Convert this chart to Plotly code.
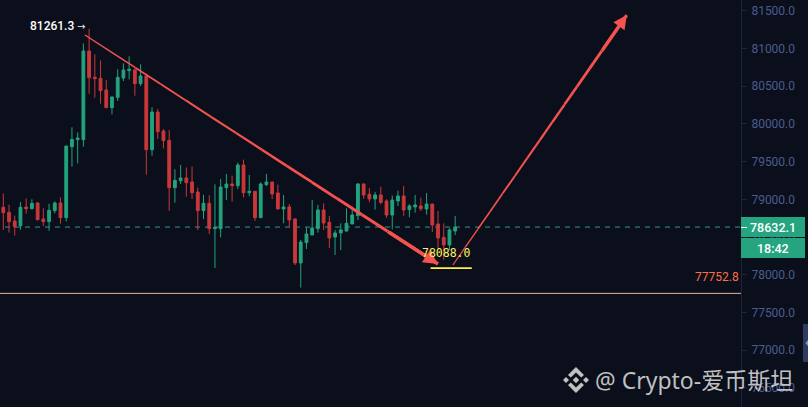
import numpy as np
import plotly.graph_objects as go

W, H = 808, 407
AXIS_PX = 741

# candles
open_ = [78894,78827,78713,78651,78898,78876,78951,78739,78704,78850,
         78951,78757,79698,79791,79791,80967,80618,80604,80450,80215,
         80352,80609,80706,80715,80534,80635,79658,80158,79906,79782,
         79155,79247,79283,79230,79097,78850,78947,78611,78611,79155,
         79203,79181,79455,79088,79106,78757,79194,79230,79084,78872,
         78899,78739,78156,78426,78527,78611,78859,78695,78501,78554,
         78580,78673,78784,79204,79067,79005,79058,78978,78792,78978,
         79044,78863,78899,78912,78872,78938,78673,78496,78395,78580]
high = [79079,78929,78783,78965,79013,79000,78965,78881,78942,78973,
        79026,79707,79955,79888,81068,81261.3,80923,80843,80582,80361,
        80724,80803,80896,80737,80790,80648,80220,80198,79932,79919,
        79398,79455,79420,79437,79155,79062,79053,79199,79269,79336,
        79314,79486,79526,79323,79106,79225,79336,79230,79195,79058,
        78938,78748,78461,78629,78991,78925,78947,78779,78594,78682,
        78881,78903,79212,79204,79151,79098,79168,79000,79049,79115,
        79177,78934,79058,79022,79084,78938,78846,78682,78616,78779]
low = [78593,78558,78518,78598,78810,78867,78721,78646,78584,78814,
       78677,78708,79433,79477,79698,80401,80348,80268,80215,80127,
       80304,80569,80591,80374,80503,79327,79579,79800,79676,78850,
       78956,79203,79035,79004,78593,78739,78540,78088,78496,78991,
       78969,79137,79026,79044,78713,78752,79177,79005,78868,78682,
       78629,78129,77829,78342,78527,78558,78594,78355,78262,78328,
       78571,78673,78726,79009,78960,78863,78934,78753,78602,78912,
       78779,78762,78823,78846,78797,78567,78350,78196,78328,78527]
close = [78823,78704,78637,78894,78876,78947,78730,78704,78854,78951,
         78757,79707,79795,79813,80967,80613,80600,80441,80215,80357,
         80618,80715,80724,80534,80635,79658,80158,79897,79778,79155,
         79252,79283,79221,79088,78850,78947,78611,78629,79163,79203,
         79181,79455,79088,79106,78757,79203,79230,79071,78872,78899,
         78726,78156,78434,78541,78620,78859,78686,78488,78554,78594,
         78682,78792,79204,79058,79005,79058,78960,78792,78991,79044,
         78859,78912,78925,78876,78938,78660,78488,78395,78594,78632.1]

tick_vals = [76500,77000,77500,78000,78500,79000,79500,80000,80500,81000,81500]

last_price = 78632.1
countdown = "18:42"
top_price = 81261.3
floor_price = 77752.8
target_price = 78088.0

# drawn arrows: bar index, price
down_arrow_x = [14.28, 76.0]
down_arrow_y = [81179, 78142]
up_arrow_x = [78.6, 109.0]
up_arrow_y = [78129, 81443]

BG = "#0b0f1b"
GREEN = "#22a37d"
RED = "#c9383a"
ARROW = "#f4524f"

def px(x):
    return x / W

def py(y):
    return 1 - y / H

def poly(points, cx, cy):
    # path in paper coords from pixel offsets
    return "M" + " L".join(f"{px(cx+a):.5f},{py(cy+b):.5f}" for a, b in points) + " Z"

fig = go.Figure(go.Candlestick(
    x=np.arange(len(open_)), open=open_, high=high, low=low, close=close,
    increasing=dict(line=dict(color=GREEN, width=1), fillcolor=GREEN),
    decreasing=dict(line=dict(color=RED, width=1), fillcolor=RED),
    whiskerwidth=0, hoverinfo="skip", showlegend=False,
))

# price lines
fig.add_shape(type="line", xref="x", yref="y", x0=0.3, x1=128.9, y0=last_price, y1=last_price,
              line=dict(color="#2b9a8a", width=1, dash="5px 5px"), layer="below")
fig.add_shape(type="line", xref="paper", yref="y", x0=0, x1=px(AXIS_PX), y0=floor_price, y1=floor_price,
              line=dict(color="#f0b295", width=1))
fig.add_shape(type="line", xref="x", yref="y", x0=74.7, x1=81.9, y0=target_price, y1=target_price,
              line=dict(color="#fff04a", width=1.6))

# arrows thicken toward the tip
def taper(xs, ys, w0, w1, n=14):
    tx = np.linspace(xs[0], xs[1], n + 1)
    ty = np.linspace(ys[0], ys[1], n + 1)
    tw = np.linspace(w0, w1, n)
    for i in range(n):
        fig.add_shape(type="line", xref="x", yref="y", x0=tx[i], x1=tx[i+1], y0=ty[i], y1=ty[i+1],
                      line=dict(color=ARROW, width=float(tw[i])))
    # head
    fig.add_annotation(x=xs[1], y=ys[1], ax=tx[n-2], ay=ty[n-2], xref="x", yref="y", axref="x", ayref="y",
                       text="", showarrow=True, arrowhead=2, arrowsize=0.85, arrowwidth=w1, arrowcolor=ARROW)

taper(down_arrow_x, down_arrow_y, 1.4, 3.4)
taper(up_arrow_x, up_arrow_y, 1.2, 3.2)

# price labels
fig.add_annotation(x=15, y=top_price, xref="x", yref="y", text=f"{top_price:.1f}", showarrow=False,
                   xanchor="right", yanchor="middle", xshift=-13, yshift=3,
                   font=dict(family="Roboto", size=12, color="#ffffff", weight=500))
fig.add_annotation(x=15, y=top_price, xref="x", yref="y", text="→", showarrow=False,
                   xanchor="right", yanchor="middle", xshift=-2, yshift=2,
                   font=dict(family="DejaVu Sans", size=10, color="#e8e8e8"))
fig.add_annotation(x=px(741), y=floor_price, xref="paper", yref="y", text=f"{floor_price:.1f}", showarrow=False,
                   xanchor="right", yanchor="bottom", yshift=7,
                   font=dict(family="Roboto", size=12, color="#ff7043"))
fig.add_annotation(x=77.55, y=target_price, xref="x", yref="y", text=f"{target_price:.1f}", showarrow=False,
                   xanchor="center", yanchor="bottom", yshift=6,
                   font=dict(family="DejaVu Sans Mono", size=11.5, color="#fbf35e"))

# last price boxes over the axis
fig.add_shape(type="rect", xref="paper", yref="paper", x0=px(741), x1=px(805), y0=py(217), y1=py(237),
              fillcolor="#24a57f", line_width=0, layer="above")
fig.add_shape(type="rect", xref="paper", yref="paper", x0=px(741), x1=px(805), y0=py(238), y1=py(258),
              fillcolor="#24a57f", line_width=0, layer="above")
fig.add_shape(type="line", xref="paper", yref="paper", x0=px(741), x1=px(747), y0=py(227.5), y1=py(227.5),
              line=dict(color="#ffffff", width=1), layer="above")
fig.add_annotation(x=px(772.5), y=py(227), xref="paper", yref="paper", text=f"{last_price:.1f}", showarrow=False,
                   xanchor="center", yanchor="middle",
                   font=dict(family="Roboto", size=12.5, color="#ffffff", weight=500))
fig.add_annotation(x=px(773), y=py(248), xref="paper", yref="paper", text=countdown, showarrow=False,
                   xanchor="center", yanchor="middle",
                   font=dict(family="Roboto", size=12.5, color="#ffffff", weight=500))

# side tab
fig.add_shape(type="rect", xref="paper", yref="paper", x0=px(803), x1=px(808), y0=py(324), y1=py(362),
              fillcolor="#2f3a63", line_width=0, layer="above")
fig.add_shape(type="path", xref="paper", yref="paper", path=poly([(0,-3),(0,3),(-2.5,0)], 808, 343),
              fillcolor="#8d95b0", line_width=0, layer="above")

# watermark
LOGO = "rgba(218,218,218,0.88)"
chevron = [(0,-13),(8,-5),(5.2,-2.4),(0,-7.5),(-5.2,-2.4),(-8,-5)]
for pts in (chevron, [(a,-b) for a, b in chevron],
            [(0,-3.2),(3.2,0),(0,3.2),(-3.2,0)],
            [(-13,0),(-10,-3),(-7,0),(-10,3)], [(13,0),(10,-3),(7,0),(10,3)]):
    fig.add_shape(type="path", xref="paper", yref="paper", path=poly(pts, 576, 380),
                  fillcolor=LOGO, line_width=0, layer="above")
fig.add_annotation(x=px(593), y=py(380), xref="paper", yref="paper", text="@ Crypto-爱币斯坦", showarrow=False,
                   xanchor="left", yanchor="middle",
                   font=dict(family="Noto Sans, Noto Sans CJK SC", size=23, color="rgba(218,218,218,0.88)"))

fig.update_layout(
    width=W, height=H, margin=dict(l=0, r=0, t=0, b=0),
    paper_bgcolor=BG, plot_bgcolor=BG, showlegend=False,
    boxgap=0.3,
    xaxis=dict(domain=[0, AXIS_PX / W], range=[-0.577, 128.97], visible=False,
               rangeslider=dict(visible=False), fixedrange=True),
    yaxis=dict(side="right", range=[76246, 81643], showgrid=False, zeroline=False, fixedrange=True,
               tickvals=tick_vals, tickformat=".1f", ticks="outside", ticklen=5, tickcolor="#1f2539",
               showline=True, linecolor="#1f2539", linewidth=1, ticklabelstandoff=2,
               tickfont=dict(family="Roboto", size=12, color="#4a5c90")),
)

fig.write_html("out.html", config=dict(displayModeBar=False),
               post_script="document.body.style.margin='0';document.body.style.background='#0b0f1b';")
